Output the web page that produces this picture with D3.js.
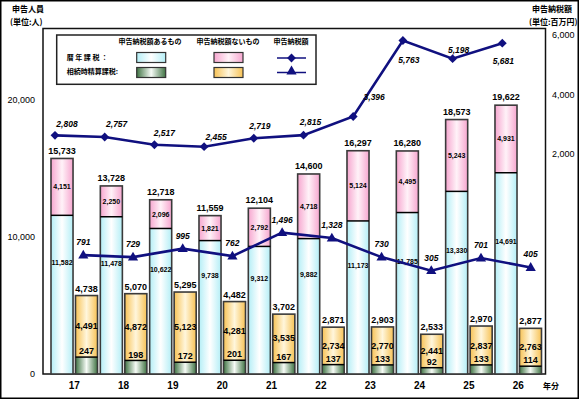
<!DOCTYPE html>
<html><head><meta charset="utf-8">
<script src="https://cdn.jsdelivr.net/npm/d3@7/dist/d3.min.js"></script>
<style>body{margin:0;background:#fff}svg{display:block}</style>
</head><body><svg id="c" width="580" height="400"></svg>
<script>
// ---------- data ----------
const years = ["17","18","19","20","21","22","23","24","25","26"];
const calYes   = [11582,11478,10622,9738,9312,9882,11173,11785,13330,14691];
const calNo    = [4151,2250,2096,1821,2792,4718,5124,4495,5243,4931];
const calTotal = [15733,13728,12718,11559,12104,14600,16297,16280,18573,19622];
const setYes   = [247,198,172,201,167,137,133,92,133,114];
const setNo    = [4491,4872,5123,4281,3535,2734,2770,2441,2837,2763];
const setTotal = [4738,5070,5295,4482,3702,2871,2903,2533,2970,2877];
const calTax   = [2808,2757,2517,2455,2719,2815,3396,5763,5198,5681];
const setTax   = [791,729,995,762,1496,1328,730,305,701,405];
const leftTicks  = [0,10000,20000];
const rightTicks = [2000,4000,6000];

// label offsets for the calendar-year tax line (layout only)
const calLblDx = [12,12,10,12,6,7,21,6,6,1];
const calLblDy = [-11,-13,-12,-10,-12,-13,-19,20,-9,18];

const fmt = d3.format(",");
const svg = d3.select("#c");
const NUM = "'Liberation Sans Narrow','Arial Narrow','Liberation Sans',Arial,sans-serif";
const JP = "'Noto Sans CJK JP','Noto Sans CJK SC',sans-serif";
const NAVY = "#10107f";

// ---------- gradients ----------
const defs = svg.append("defs");
function grad(id, edge, mid){
  const g = defs.append("linearGradient").attr("id",id).attr("x1",0).attr("x2",1).attr("y1",0).attr("y2",0);
  g.append("stop").attr("offset","0%").attr("stop-color",edge);
  g.append("stop").attr("offset","50%").attr("stop-color",mid);
  g.append("stop").attr("offset","100%").attr("stop-color",edge);
}
grad("gCyan","#b4eef6","#ffffff");
grad("gPink","#f6a6cf","#fff2f8");
grad("gGreen","#3f7343","#f6fbf6");
grad("gOrange","#f7c255","#fff6dc");

// ---------- scales ----------
const x = d3.scaleBand().domain(years).range([51,541.5]).paddingInner(0.057).paddingOuter(0);
const xs = d3.scaleBand().domain(["cal","set"]).range([0,x.bandwidth()]).paddingInner(0.1);
const y = d3.scaleLinear().domain([0,20000]).range([374,100]);
const yGreen = d3.scaleLinear().domain([0,4000]).range([374,100]);
const xd = d3.scalePoint().domain(years).range([55,502.3]);
const xt = d3.scalePoint().domain(years).range([83.3,530.7]);
const yd = d3.scaleLinear().domain([0,6000]).range([225.5,32.9]);
const yt = d3.scaleLinear().domain([0,6000]).range([280.4,89]);
const yRightAxis = d3.scaleLinear().domain([2000,6000]).range([153.3,35]);

// ---------- outer frame ----------
svg.append("rect").attr("x",0.75).attr("y",0.75).attr("width",577.5).attr("height",397.5)
  .attr("fill","none").attr("stroke","#000").attr("stroke-width",1.5);

// ---------- titles ----------
const tt = svg.append("g").attr("font-family",JP).attr("font-weight","bold").attr("font-size","8px").attr("fill","#000");
tt.append("text").attr("x",12).attr("y",12).text("申告人員");
tt.append("text").attr("x",10).attr("y",25).text("(単位:人)");
tt.append("text").attr("x",532).attr("y",12).text("申告納税額");
tt.append("text").attr("x",529).attr("y",25).text("(単位:百万円)");

// ---------- axes ----------
const la = svg.append("g").attr("transform","translate(35,0)")
  .call(d3.axisLeft(y).tickValues(leftTicks).tickSize(0).tickPadding(0).tickFormat(fmt));
la.select(".domain").remove();
la.selectAll("text").attr("font-family","'Liberation Sans',Arial,sans-serif").attr("font-size","9px").attr("fill","#000");

const ra = svg.append("g").attr("transform","translate(552,0)")
  .call(d3.axisRight(yRightAxis).tickValues(rightTicks).tickSize(0).tickPadding(0).tickFormat(fmt));
ra.select(".domain").remove();
ra.selectAll("text").attr("font-family","'Liberation Sans',Arial,sans-serif").attr("font-size","9px").attr("fill","#000");

const ba = svg.append("g").attr("transform","translate(0,374)")
  .call(d3.axisBottom(x).tickSize(0).tickPadding(8));
ba.select(".domain").remove();
ba.selectAll("text").attr("font-family",NUM).attr("font-weight","bold").attr("font-size","10px").attr("fill","#000");
svg.append("text").attr("x",551).attr("y",389).attr("text-anchor","middle")
  .attr("font-family",JP).attr("font-weight","bold").attr("font-size","8px").text("年分");

// ---------- plot frame ----------
svg.append("rect").attr("x",43).attr("y",28.5).attr("width",502.5).attr("height",345.5)
  .attr("fill","none").attr("stroke","#111").attr("stroke-width",1.5);

// ---------- bars ----------
const bars = svg.append("g");
const BS = "#3a3a3a";
years.forEach((yr,i)=>{
  const xc = x(yr)+xs("cal"), xh = x(yr)+xs("set"), w = xs.bandwidth();
  // calendar-year stack
  bars.append("rect").attr("x",xc).attr("y",y(calYes[i])).attr("width",w).attr("height",y(0)-y(calYes[i]))
    .attr("fill","url(#gCyan)");
  bars.append("rect").attr("x",xc).attr("y",y(calTotal[i])).attr("width",w).attr("height",y(calYes[i])-y(calTotal[i]))
    .attr("fill","url(#gPink)");
  bars.append("rect").attr("x",xc).attr("y",y(calTotal[i])).attr("width",w).attr("height",y(0)-y(calTotal[i]))
    .attr("fill","none").attr("stroke",BS).attr("stroke-width",1.6);
  bars.append("line").attr("x1",xc).attr("x2",xc+w).attr("y1",y(calYes[i])).attr("y2",y(calYes[i]))
    .attr("stroke","#000").attr("stroke-width",1.5);
  // settlement stack (green part exaggerated on its own scale)
  const gTop = yGreen(setYes[i]);
  const oH = y(0)-y(setNo[i]);
  bars.append("rect").attr("x",xh).attr("y",gTop).attr("width",w).attr("height",y(0)-gTop)
    .attr("fill","url(#gGreen)");
  bars.append("rect").attr("x",xh).attr("y",gTop-oH).attr("width",w).attr("height",oH)
    .attr("fill","url(#gOrange)");
  bars.append("rect").attr("x",xh).attr("y",gTop-oH).attr("width",w).attr("height",y(0)-gTop+oH)
    .attr("fill","none").attr("stroke",BS).attr("stroke-width",1.6);
  bars.append("line").attr("x1",xh).attr("x2",xh+w).attr("y1",gTop).attr("y2",gTop)
    .attr("stroke","#000").attr("stroke-width",1.5);

  // labels
  const lbl = (tx,ty,t,size)=>bars.append("text").attr("x",tx).attr("y",ty).attr("dy","0.35em")
    .attr("text-anchor","middle").attr("font-family",NUM).attr("font-weight","bold")
    .attr("font-size",size).attr("fill","#000").text(t);
  lbl(xc+w/2, y(calTotal[i])-8, fmt(calTotal[i]), "9px");
  lbl(xc+w/2, (y(calTotal[i])+y(calYes[i]))/2, fmt(calNo[i]), "7px");
  lbl(xc+w/2, (y(calYes[i])+y(0))/2-32, fmt(calYes[i]), "7px");
  lbl(xh+w/2, gTop-oH-7, fmt(setTotal[i]), "9px");
  lbl(xh+w/2, gTop-oH/2, fmt(setNo[i]), "9px");
  lbl(xh+w/2, gTop-6, fmt(setYes[i]), "9px");
});

// ---------- lines ----------
const lineD = d3.line().x((d,i)=>xd(years[i])).y(d=>yd(d));
const lineT = d3.line().x((d,i)=>xt(years[i])).y(d=>yt(d));
svg.append("path").attr("d",lineD(calTax)).attr("fill","none").attr("stroke",NAVY).attr("stroke-width",2.6);
svg.append("path").attr("d",lineT(setTax)).attr("fill","none").attr("stroke",NAVY).attr("stroke-width",2.6);
const diamond = d3.symbol().type(d3.symbolDiamond2).size(50);
const tri = d3.symbol().type(d3.symbolTriangle).size(45);
calTax.forEach((v,i)=>{
  svg.append("path").attr("d",diamond()).attr("transform",`translate(${xd(years[i])},${yd(v)})`).attr("fill",NAVY);
  svg.append("text").attr("x",xd(years[i])+calLblDx[i]).attr("y",yd(v)+calLblDy[i]).attr("dy","0.35em")
    .attr("text-anchor","middle").attr("font-family",NUM).attr("font-weight","bold").attr("font-style","italic")
    .attr("font-size","8.5px").text(fmt(v));
});
setTax.forEach((v,i)=>{
  svg.append("path").attr("d",tri()).attr("transform",`translate(${xt(years[i])},${yt(v)+0.5})`).attr("fill",NAVY);
  svg.append("text").attr("x",xt(years[i])).attr("y",yt(v)-13).attr("dy","0.35em")
    .attr("text-anchor","middle").attr("font-family",NUM).attr("font-weight","bold").attr("font-style","italic")
    .attr("font-size","8.5px").text(fmt(v));
});

// ---------- legend ----------
const lg = svg.append("g");
lg.append("rect").attr("x",56.7).attr("y",35).attr("width",259.3).attr("height",49.3)
  .attr("fill","#fff").attr("stroke","#222").attr("stroke-width",1.5);
const lt = (tx,ty,t,anchor)=>lg.append("text").attr("x",tx).attr("y",ty).attr("dy","0.35em")
  .attr("text-anchor",anchor).attr("font-family",JP).attr("font-weight","bold").attr("font-size","7px").text(t);
lt(150,42,"申告納税額あるもの","middle");
lt(228,42,"申告納税額ないもの","middle");
lt(291,42,"申告納税額","middle");
lt(66.7,57.5,"暦 年 課 税 ：","start");
lt(66.7,71.5,"相続時精算課税:","start");
const sw = (sx,sy,f)=>lg.append("rect").attr("x",sx).attr("y",sy).attr("width",29).attr("height",10)
  .attr("fill",f).attr("stroke","#333").attr("stroke-width",1.2);
sw(136.7,52.5,"url(#gCyan)");
sw(214,52.5,"url(#gPink)");
sw(136.7,67.5,"url(#gGreen)");
sw(214,67.5,"url(#gOrange)");
lg.append("line").attr("x1",277).attr("x2",306).attr("y1",58).attr("y2",58).attr("stroke",NAVY).attr("stroke-width",1.5);
lg.append("line").attr("x1",277).attr("x2",306).attr("y1",72.5).attr("y2",72.5).attr("stroke",NAVY).attr("stroke-width",1.5);
lg.append("path").attr("d",diamond()).attr("transform","translate(291.5,58)").attr("fill",NAVY);
lg.append("path").attr("d",tri()).attr("transform","translate(291.5,71.5)").attr("fill",NAVY);
</script></body></html>
